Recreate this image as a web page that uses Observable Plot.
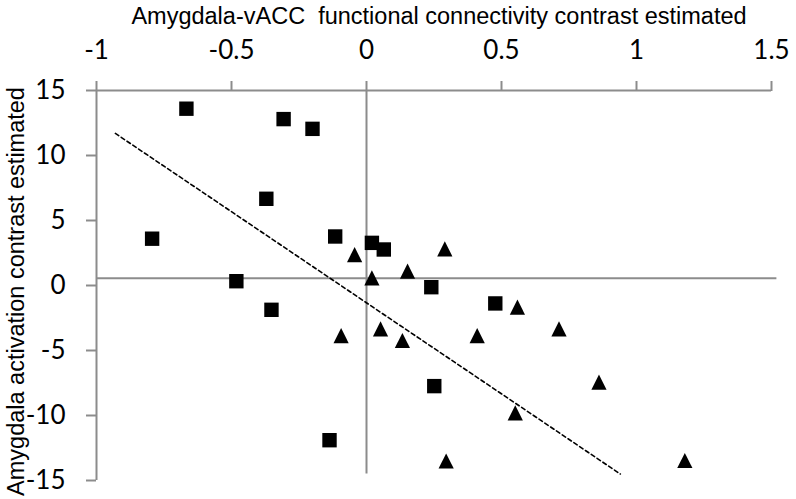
<!DOCTYPE html>
<html><head><meta charset="utf-8">
<script src="https://cdn.jsdelivr.net/npm/d3@7"></script>
<script src="https://cdn.jsdelivr.net/npm/@observablehq/plot@0.6"></script>
<style>html,body{margin:0;padding:0;background:#fff}</style>
</head><body><div id="chart"></div>
<script>
// ---- data ----
const squareX = [-0.667, -0.307, -0.200, -0.371, -0.794, -0.116, 0.020, 0.064, -0.482, -0.352, -0.137, 0.240, 0.477, 0.251];
const squareY = [13.6, 12.8, 12.05, 6.67, 3.6, 3.77, 3.28, 2.77, 0.33, -1.87, -11.9, -0.13, -1.38, -7.74];
const triangleX = [-0.044, 0.020, 0.290, 0.152, -0.094, 0.052, 0.133, 0.410, 0.559, 0.713, 0.861, 0.551, 0.295, 1.179];
const triangleY = [2.38, 0.59, 2.82, 1.10, -3.85, -3.33, -4.23, -3.85, -1.67, -3.33, -7.44, -9.80, -13.5, -13.46];
const trendX = [-0.93, 0.94];
const trendY = [11.7, -14.5];
const xTicks = [-1, -0.5, 0, 0.5, 1, 1.5];
const yTicks = [-15, -10, -5, 0, 5, 10, 15];
const xDomain = [-1, 1.5];
const yDomain = [-15, 15];
const hRefY = [0.55], hRefX = [-1, 1.52];
const vRefX = [0], vRefY = [-14.5, 15];
const xTitle = "Amygdala-vACC  functional connectivity contrast estimated";
const yTitle = "Amygdala activation contrast estimated";

const squares = squareX.map((x, i) => ({x, y: squareY[i]}));
const triangles = triangleX.map((x, i) => ({x, y: triangleY[i]}));
const trend = trendX.map((x, i) => ({x, y: trendY[i]}));

const sqSym = {draw(ctx, size) { const r = Math.sqrt(size / Math.PI); ctx.rect(-r, -r, 2 * r, 2 * r); }};
const triSym = {draw(ctx, size) { const r = Math.sqrt(size / Math.PI); ctx.moveTo(0, -r); ctx.lineTo(r, r); ctx.lineTo(-r, r); ctx.closePath(); }};

const gray = "#8c8c8c";
const tickFont = "Lato, 'Open Sans', sans-serif";
const titleFont = "'Liberation Sans', Arial, sans-serif";

const chart = Plot.plot({
  width: 796,
  height: 499,
  marginLeft: 96,
  marginRight: 25,
  marginTop: 90,
  marginBottom: 19,
  x: {domain: xDomain, axis: null},
  y: {domain: yDomain, axis: null},
  style: {background: "#fff", overflow: "visible"},
  marks: [
    Plot.ruleY(hRefY, {x1: hRefX[0], x2: hRefX[1], stroke: gray, strokeWidth: 2}),
    Plot.ruleX(vRefX, {y1: vRefY[0], y2: vRefY[1], stroke: gray, strokeWidth: 2}),
    Plot.ruleY([yDomain[1]], {stroke: gray, strokeWidth: 2}),
    Plot.ruleX([xDomain[0]], {stroke: gray, strokeWidth: 2}),
    Plot.axisX({ticks: xTicks, anchor: "top", tickSize: 10, tickPadding: 22, stroke: gray, strokeWidth: 2,
      fill: "black", fontSize: 26, fontFamily: tickFont, label: null, tickFormat: d => String(d)}),
    Plot.axisY({ticks: yTicks, anchor: "left", tickSize: 10, tickPadding: 21, stroke: gray, strokeWidth: 2,
      fill: "black", fontSize: 26, fontFamily: tickFont, label: null, tickFormat: d => String(d)}),
    Plot.line(trend, {x: "x", y: "y", stroke: "black", strokeWidth: 1.6, strokeDasharray: "4,3"}),
    Plot.dot(squares, {x: "x", y: "y", symbol: sqSym, r: 7.2, fill: "black", stroke: "none"}),
    Plot.dot(triangles, {x: "x", y: "y", symbol: triSym, r: 7.6, fill: "black", stroke: "none"}),
    Plot.text([xTitle], {frameAnchor: "top", textAnchor: "middle", dx: 5, dy: -74, fontSize: 23.5, fontFamily: titleFont, fill: "black", lineAnchor: "middle"}),
    Plot.text([yTitle], {frameAnchor: "left", textAnchor: "middle", dx: -80, dy: 6, rotate: -90, fontSize: 23.5, fontFamily: titleFont, fill: "black", lineAnchor: "middle"})
  ]
});
document.getElementById("chart").appendChild(chart);
</script>
</body></html>
